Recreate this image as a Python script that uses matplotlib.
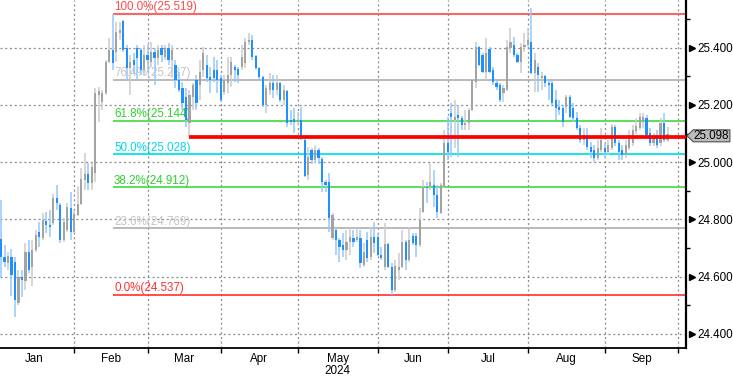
import matplotlib
matplotlib.use('Agg')
import matplotlib.pyplot as plt
import matplotlib.transforms as mtransforms
from matplotlib.patches import Polygon
import numpy as np

plt.rcParams['font.family'] = ['Liberation Sans', 'DejaVu Sans']

# ---------------- data (daily candles, Jan - Sep 2024) ----------------
opens = [24.731, 24.668, 24.647, 24.668, 24.650, 24.507, 24.598, 24.584, 24.685, 24.633,
         24.692, 24.755, 24.734, 24.794, 24.780, 24.787, 24.874, 24.850, 24.727, 24.762,
         24.839, 24.755, 24.815, 24.853, 24.937, 24.958, 24.927, 24.962, 25.234, 25.210,
         25.241, 25.350, 25.392, 25.385, 25.451, 25.494, 25.399, 25.329, 25.357, 25.399,
         25.392, 25.322, 25.374, 25.350, 25.385, 25.364, 25.399, 25.367, 25.399, 25.357,
         25.339, 25.287, 25.259, 25.227, 25.136, 25.227, 25.287, 25.269, 25.322, 25.339,
         25.297, 25.322, 25.322, 25.294, 25.245, 25.276, 25.304, 25.332, 25.325, 25.332,
         25.346, 25.420, 25.427, 25.371, 25.329, 25.297, 25.199, 25.252, 25.276, 25.252,
         25.276, 25.217, 25.248, 25.147, 25.150, 25.140, 25.147, 25.077, 24.955, 25.042,
         25.007, 25.042, 25.010, 24.930, 24.930, 24.734, 24.762, 24.727, 24.710, 24.692,
         24.720, 24.734, 24.727, 24.734, 24.640, 24.727, 24.668, 24.738, 24.738, 24.675,
         24.633, 24.713, 24.633, 24.552, 24.622, 24.633, 24.720, 24.657, 24.741, 24.741,
         24.710, 24.825, 24.913, 24.913, 24.920, 24.885, 24.822, 24.913, 25.066, 25.171,
         25.147, 25.164, 25.154, 25.129, 25.136, 25.182, 25.280, 25.403, 25.374, 25.315,
         25.396, 25.322, 25.276, 25.269, 25.241, 25.252, 25.399, 25.410, 25.374, 25.350,
         25.403, 25.410, 25.420, 25.311, 25.332, 25.294, 25.301, 25.276, 25.276, 25.217,
         25.192, 25.189, 25.192, 25.227, 25.189, 25.154, 25.119, 25.077, 25.091, 25.052,
         25.042, 25.014, 25.042, 25.049, 25.035, 25.049, 25.122, 25.066, 25.042, 25.024,
         25.049, 25.066, 25.108, 25.119, 25.140, 25.154, 25.101, 25.066, 25.094, 25.066,
         25.136, 25.077]

highs = [24.867, 24.710, 24.685, 24.696, 24.668, 24.622, 24.622, 24.717, 24.727, 24.727,
         24.762, 24.790, 24.822, 24.825, 24.832, 24.888, 24.920, 24.857, 24.804, 24.857,
         24.895, 24.832, 24.916, 24.979, 25.031, 24.996, 24.996, 25.259, 25.262, 25.252,
         25.357, 25.434, 25.519, 25.490, 25.490, 25.497, 25.410, 25.374, 25.381, 25.410,
         25.399, 25.410, 25.410, 25.420, 25.399, 25.410, 25.410, 25.410, 25.417, 25.410,
         25.357, 25.315, 25.280, 25.259, 25.252, 25.276, 25.304, 25.357, 25.403, 25.374,
         25.332, 25.367, 25.357, 25.304, 25.304, 25.367, 25.367, 25.339, 25.332, 25.410,
         25.434, 25.451, 25.444, 25.374, 25.332, 25.301, 25.269, 25.311, 25.304, 25.304,
         25.280, 25.269, 25.252, 25.182, 25.189, 25.175, 25.192, 25.084, 25.052, 25.049,
         25.059, 25.049, 25.017, 24.937, 24.962, 24.822, 24.773, 24.734, 24.752, 24.762,
         24.769, 24.762, 24.769, 24.762, 24.717, 24.755, 24.773, 24.790, 24.752, 24.703,
         24.787, 24.717, 24.647, 24.657, 24.682, 24.762, 24.727, 24.773, 24.752, 24.752,
         24.839, 24.937, 24.930, 24.996, 24.972, 24.920, 24.927, 25.112, 25.157, 25.206,
         25.217, 25.199, 25.161, 25.182, 25.189, 25.290, 25.420, 25.406, 25.381, 25.434,
         25.403, 25.332, 25.287, 25.276, 25.269, 25.427, 25.469, 25.437, 25.381, 25.417,
         25.451, 25.469, 25.539, 25.381, 25.346, 25.315, 25.304, 25.287, 25.287, 25.252,
         25.217, 25.199, 25.234, 25.234, 25.206, 25.175, 25.129, 25.119, 25.119, 25.070,
         25.059, 25.077, 25.119, 25.066, 25.077, 25.133, 25.129, 25.077, 25.059, 25.077,
         25.112, 25.129, 25.154, 25.171, 25.171, 25.164, 25.119, 25.101, 25.112, 25.154,
         25.171, 25.122]

lows = [24.598, 24.633, 24.622, 24.531, 24.458, 24.500, 24.527, 24.552, 24.612, 24.566,
        24.685, 24.703, 24.727, 24.752, 24.738, 24.780, 24.832, 24.717, 24.720, 24.755,
        24.727, 24.752, 24.811, 24.850, 24.902, 24.902, 24.902, 24.930, 25.140, 25.182,
        25.234, 25.346, 25.322, 25.350, 25.427, 25.385, 25.287, 25.234, 25.311, 25.287,
        25.304, 25.304, 25.315, 25.332, 25.269, 25.339, 25.350, 25.357, 25.339, 25.294,
        25.259, 25.245, 25.182, 25.122, 25.091, 25.182, 25.182, 25.217, 25.297, 25.280,
        25.241, 25.280, 25.241, 25.210, 25.234, 25.241, 25.262, 25.280, 25.276, 25.322,
        25.329, 25.410, 25.357, 25.322, 25.290, 25.192, 25.171, 25.234, 25.224, 25.234,
        25.210, 25.199, 25.122, 25.129, 25.101, 25.129, 25.077, 24.948, 24.937, 24.993,
        24.996, 24.993, 24.895, 24.895, 24.755, 24.727, 24.675, 24.650, 24.668, 24.657,
        24.675, 24.703, 24.720, 24.629, 24.633, 24.650, 24.657, 24.682, 24.671, 24.657,
        24.622, 24.629, 24.537, 24.545, 24.587, 24.629, 24.622, 24.650, 24.710, 24.668,
        24.703, 24.822, 24.857, 24.902, 24.843, 24.804, 24.818, 24.909, 25.007, 25.017,
        25.049, 25.017, 25.112, 25.112, 25.112, 25.178, 25.259, 25.336, 25.311, 25.287,
        25.311, 25.269, 25.252, 25.210, 25.210, 25.248, 25.381, 25.367, 25.346, 25.311,
        25.385, 25.403, 25.308, 25.245, 25.245, 25.252, 25.262, 25.217, 25.199, 25.147,
        25.164, 25.122, 25.171, 25.154, 25.140, 25.112, 25.066, 25.059, 25.042, 25.014,
        25.000, 25.007, 25.035, 25.014, 25.024, 25.042, 25.056, 25.007, 25.007, 25.014,
        25.042, 25.056, 25.098, 25.112, 25.119, 25.084, 25.056, 25.056, 25.049, 25.056,
        25.070, 25.070]

closes = [24.668, 24.650, 24.671, 24.605, 24.517, 24.598, 24.587, 24.685, 24.622, 24.692,
          24.745, 24.738, 24.797, 24.780, 24.773, 24.874, 24.857, 24.727, 24.790, 24.843,
          24.755, 24.818, 24.853, 24.941, 24.958, 24.927, 24.982, 25.241, 25.248, 25.241,
          25.350, 25.392, 25.346, 25.455, 25.462, 25.392, 25.329, 25.350, 25.339, 25.364,
          25.322, 25.374, 25.357, 25.385, 25.364, 25.392, 25.374, 25.399, 25.357, 25.392,
          25.287, 25.252, 25.206, 25.147, 25.234, 25.269, 25.206, 25.315, 25.381, 25.294,
          25.287, 25.294, 25.287, 25.217, 25.287, 25.304, 25.350, 25.322, 25.304, 25.367,
          25.420, 25.427, 25.367, 25.329, 25.297, 25.199, 25.259, 25.276, 25.252, 25.276,
          25.217, 25.252, 25.136, 25.140, 25.140, 25.147, 25.087, 24.951, 25.017, 25.007,
          25.042, 25.014, 24.930, 24.920, 24.804, 24.815, 24.727, 24.703, 24.692, 24.720,
          24.738, 24.720, 24.738, 24.647, 24.685, 24.664, 24.738, 24.717, 24.675, 24.664,
          24.713, 24.633, 24.552, 24.636, 24.633, 24.720, 24.657, 24.727, 24.717, 24.710,
          24.797, 24.913, 24.909, 24.930, 24.885, 24.825, 24.920, 25.066, 25.035, 25.157,
          25.157, 25.154, 25.129, 25.136, 25.182, 25.287, 25.403, 25.339, 25.315, 25.381,
          25.315, 25.280, 25.262, 25.217, 25.259, 25.403, 25.420, 25.374, 25.350, 25.403,
          25.410, 25.427, 25.311, 25.357, 25.304, 25.301, 25.276, 25.269, 25.206, 25.189,
          25.182, 25.140, 25.227, 25.157, 25.154, 25.119, 25.077, 25.094, 25.052, 25.035,
          25.014, 25.049, 25.077, 25.035, 25.059, 25.122, 25.066, 25.035, 25.024, 25.059,
          25.084, 25.112, 25.126, 25.157, 25.157, 25.094, 25.066, 25.084, 25.059, 25.136,
          25.077, 25.098]

# month boundaries (candle index of first bar of each month)
month_starts = [21, 42, 63, 85, 108, 128, 151, 173, 194]
month_first = -2  # first (off-chart) bar of January
month_labels = ['Jan', 'Feb', 'Mar', 'Apr', 'May', 'Jun', 'Jul', 'Aug', 'Sep']
year_label = '2024'

# Fibonacci retracement
fib_names = ['100.0%', '76.4%', '61.8%', '50.0%', '38.2%', '23.6%', '0.0%']
fib_levels = [25.519, 25.287, 25.144, 25.028, 24.912, 24.769, 24.537]
fib_start = 32
support_level = 25.087
support_start = 54
last_price = 25.098

y_ticks = [24.4, 24.6, 24.8, 25.0, 25.2, 25.4]
y_minor = [24.5, 24.7, 24.9, 25.1, 25.3, 25.5]

# ---------------- styling ----------------
fib_line_colors = ['#ff6464', '#b4b4b4', '#3ddc3d', '#00e4f0', '#3ddc3d', '#b4b4b4', '#ff3030']
fib_text_colors = ['#ff4a4a', '#c4c4c4', '#2ed02e', '#00d8ec', '#2ed02e', '#c4c4c4', '#ff3030']
fib_widths = [1.5, 1.3, 1.2, 1.3, 1.2, 1.3, 1.2]
up_body, up_wick = '#a3a3a3', '#cbcbcb'
dn_body, dn_wick = '#2190ff', '#93c7ff'
grid_kw = dict(color='#8c8c8c', linestyle=(0, (1.6, 2.2)), linewidth=0.9)
fs = 8.4

fig = plt.figure(figsize=(7.33, 3.77), dpi=100)
fig.patch.set_facecolor('white')
ax = fig.add_axes([0.0, 29 / 377, 686 / 733, 348 / 377])

o = np.array(opens); h = np.array(highs); l = np.array(lows); c = np.array(closes)
x = np.arange(len(c))
up = c >= o

ax.set_xlim(-0.29, 196.3)
ax.set_ylim(24.350, 25.567)

# grid
for v in y_ticks:
    ax.axhline(v, zorder=0, **grid_kw)
for m in month_starts:
    ax.axvline(m, zorder=0, **grid_kw)

# fib lines
for lev, col, lw in zip(fib_levels, fib_line_colors, fib_widths):
    ax.hlines(lev, fib_start, 196.3, colors=col, linewidth=lw, zorder=1)
for name, lev, col in zip(fib_names, fib_levels, fib_text_colors):
    ax.text(fib_start + 0.4, lev + 0.002, f'{name}({lev:.3f})', color=col,
            fontsize=fs, ha='left', va='bottom', zorder=2)

# candles
ax.vlines(x, l, h, colors=np.where(up, up_wick, dn_wick), linewidth=1.1, zorder=3)
ax.bar(x, np.maximum(np.abs(c - o), 0.003), bottom=np.minimum(o, c), width=0.62,
       color=np.where(up, up_body, dn_body), linewidth=0, zorder=4)

# support line
ax.hlines(support_level, support_start, 196.3, colors='#ff0000', linewidth=2.7, zorder=5)

# spines
ax.spines['top'].set_visible(False)
ax.spines['left'].set_visible(False)
ax.spines['right'].set_linewidth(1.6)
ax.spines['bottom'].set_linewidth(1.3)

# y axis on right
ax.yaxis.tick_right()
ax.set_yticks(y_ticks)
ax.set_yticklabels([f'{v:.3f}' for v in y_ticks])
ax.set_yticks(y_minor, minor=True)
ax.tick_params(axis='y', which='major', length=0, pad=8.5, labelsize=fs, colors='black')
ax.tick_params(axis='y', which='minor', length=3, width=1, colors='black')
bt = mtransforms.blended_transform_factory(ax.transAxes, ax.transData)
ax.plot([1.0085] * len(y_ticks), y_ticks, linestyle='none', marker='>', markersize=4.5,
        color='black', transform=bt, clip_on=False, zorder=10)

# x axis
mids = [(a + b) / 2 for a, b in zip([month_first] + month_starts[:-1], month_starts)]
ax.set_xticks(month_starts)
ax.set_xticklabels([])
ax.set_xticks(mids, minor=True)
ax.set_xticklabels(month_labels, minor=True)
ax.tick_params(axis='x', which='major', length=3.5, width=1, colors='black')
ax.tick_params(axis='x', which='minor', length=0, pad=3.5, labelsize=fs)
ax.annotate(year_label, xy=(mids[4], 0), xycoords=('data', 'axes fraction'),
            xytext=(0, -16.5), textcoords='offset points', ha='center', va='center',
            fontsize=fs, annotation_clip=False)

# last price box
cy = 25.092
hh = 0.021
poly = Polygon([(1.0015, cy), (1.0105, cy + hh), (1.064, cy + hh), (1.064, cy - hh),
                (1.0105, cy - hh)], closed=True, facecolor='#bcbcbc', edgecolor='#505050',
               linewidth=0.8, transform=bt, clip_on=False, zorder=11)
ax.add_patch(poly)
ax.text(1.037, cy, f'{last_price:.3f}', transform=bt, ha='center', va='center',
        fontsize=fs, color='black', zorder=12, clip_on=False)

fig.savefig('out.png', dpi=100, facecolor='white')
